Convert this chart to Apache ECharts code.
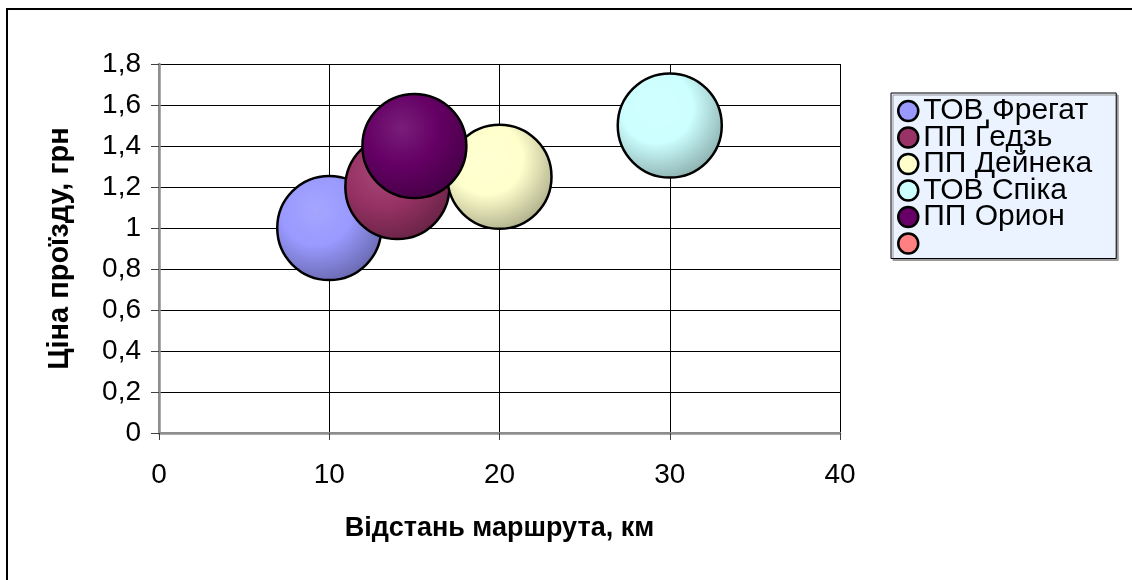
<!DOCTYPE html>
<html>
<head>
<meta charset="utf-8">
<script src="https://cdn.jsdelivr.net/npm/echarts@6/dist/echarts.min.js"></script>
<style>
html,body{margin:0;padding:0;background:#fff;}
#chart{width:1132px;height:580px;}
</style>
</head>
<body>
<div id="chart"></div>
<script>
// ---- data ----
const companies = ['ТОВ Фрегат', 'ПП Ґедзь', 'ПП Дейнека', 'ТОВ Спіка', 'ПП Орион', ''];
const distanceKm = [10, 14, 20, 30, 15];
const priceUah = [1.0, 1.2, 1.25, 1.5, 1.4];
const bubbleSize = [1, 1, 1, 1, 1];
const xTicks = [0, 10, 20, 30, 40];
const yTicks = [0, 0.2, 0.4, 0.6, 0.8, 1, 1.2, 1.4, 1.6, 1.8];

// ---- styles ----
const palette = ['#9999FF', '#993366', '#FFFFCC', '#CCFFFF', '#660066', '#FF8080'];
const FONT = '"Liberation Sans", Arial, sans-serif';

function mix(hex, target, t) {
  const h = hex.replace('#', '');
  const r = parseInt(h.substr(0, 2), 16), g = parseInt(h.substr(2, 2), 16), b = parseInt(h.substr(4, 2), 16);
  const f = c => Math.round(c + (target - c) * t);
  return 'rgb(' + f(r) + ',' + f(g) + ',' + f(b) + ')';
}
function bubbleFill(hex) {
  return {
    type: 'radial', x: 0.38, y: 0.33, r: 0.75,
    colorStops: [
      { offset: 0, color: mix(hex, 255, 0.12) },
      { offset: 0.45, color: hex },
      { offset: 1, color: mix(hex, 0, 0.35) }
    ]
  };
}

const maxSize = Math.max.apply(null, bubbleSize);
const series = [];
for (let i = 0; i < companies.length; i++) {
  const data = i < distanceKm.length ? [[distanceKm[i], priceUah[i], bubbleSize[i]]] : [];
  series.push({
    type: 'scatter',
    name: companies[i] === '' ? ' ' : companies[i],
    data: data,
    symbol: 'circle',
    symbolSize: d => 104 * Math.sqrt(d[2] / maxSize),
    itemStyle: { color: bubbleFill(palette[i]), borderColor: '#000', borderWidth: 2.5, opacity: 1 },
    emphasis: { disabled: true },
    z: 3
  });
}

const chart = echarts.init(document.getElementById('chart'), null, { renderer: 'canvas' });
chart.setOption({
  animation: false,
  backgroundColor: '#fff',
  grid: { left: 159, top: 64, right: 292, bottom: 147, containLabel: false },
  legend: {
    orient: 'vertical',
    left: 891, top: 93,
    padding: [3, 24, 0, 6],
    itemGap: -3.5,
    itemWidth: 20, itemHeight: 20,
    icon: 'circle',
    backgroundColor: '#EAF3FF',
    borderColor: '#000', borderWidth: 1,
    shadowColor: '#9a9a9a', shadowOffsetX: 2, shadowOffsetY: 2, shadowBlur: 0,
    itemStyle: { borderColor: '#000', borderWidth: 2.5 },
    textStyle: { fontFamily: FONT, fontSize: 30, color: '#000' },
    selectedMode: false,
    data: companies.map((n, i) => ({ name: n === '' ? ' ' : n, itemStyle: { color: palette[i] } }))
  },
  xAxis: [{
    type: 'value', min: xTicks[0], max: xTicks[xTicks.length - 1], interval: xTicks[1] - xTicks[0],
    name: 'Відстань маршрута, км', nameLocation: 'middle', nameGap: 82,
    nameTextStyle: { fontFamily: FONT, fontSize: 27, fontWeight: 'bold', color: '#000' },
    axisLine: { show: true, onZero: false, lineStyle: { color: '#808080', width: 2 } },
    axisTick: { show: true, inside: false, length: 7, lineStyle: { color: '#404040', width: 1 } },
    axisLabel: { margin: 28, fontFamily: FONT, fontSize: 28, color: '#000' },
    splitLine: { show: true, lineStyle: { color: '#000', width: 1 } }
  }, {
    type: 'value', position: 'top', min: xTicks[0], max: xTicks[xTicks.length - 1],
    axisLine: { show: true, lineStyle: { color: '#909090', width: 2.5 } },
    axisTick: { show: false }, axisLabel: { show: false }, splitLine: { show: false }
  }],
  yAxis: [{
    type: 'value', min: yTicks[0], max: yTicks[yTicks.length - 1], interval: 0.2,
    name: 'Ціна проїзду, грн', nameLocation: 'middle', nameGap: 85,
    nameTextStyle: { fontFamily: FONT, fontSize: 29, fontWeight: 'bold', color: '#000' },
    axisLine: { show: true, onZero: false, lineStyle: { color: '#808080', width: 2 } },
    axisTick: { show: true, inside: false, length: 8, lineStyle: { color: '#404040', width: 1 } },
    axisLabel: { margin: 18, fontFamily: FONT, fontSize: 28, color: '#000',
      formatter: v => String(Math.round(v * 10) / 10).replace('.', ',') },
    splitLine: { show: true, lineStyle: { color: '#000', width: 1 } }
  }, {
    type: 'value', position: 'right', min: yTicks[0], max: yTicks[yTicks.length - 1],
    axisLine: { show: true, lineStyle: { color: '#909090', width: 2.5 } },
    axisTick: { show: false }, axisLabel: { show: false }, splitLine: { show: false }
  }],
  graphic: [
    { type: 'line', shape: { x1: 6, y1: 9, x2: 1132, y2: 9 }, style: { stroke: '#000', lineWidth: 2 }, silent: true },
    { type: 'line', shape: { x1: 7, y1: 8, x2: 7, y2: 580 }, style: { stroke: '#000', lineWidth: 2 }, silent: true }
  ],
  series: series
});
</script>
</body>
</html>
